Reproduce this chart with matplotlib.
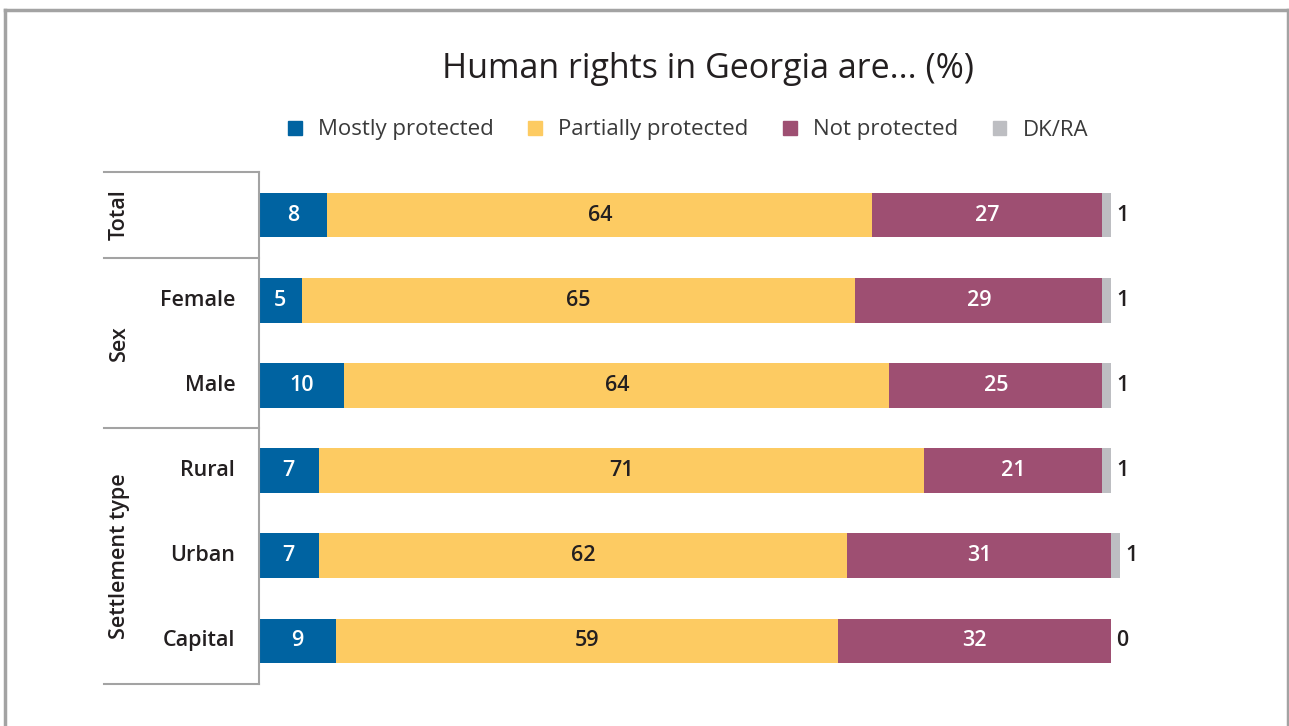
import matplotlib.pyplot as plt
from matplotlib.lines import Line2D

plt.rcParams['font.family'] = ['Open Sans', 'DejaVu Sans']

# Данные опроса
groups = ['Total', 'Sex', 'Settlement type']
rows = ['', 'Female', 'Male', 'Rural', 'Urban', 'Capital']
series = ['Mostly protected', 'Partially protected', 'Not protected', 'DK/RA']
mostly = [8, 5, 10, 7, 7, 9]
partially = [64, 65, 64, 71, 62, 59]
not_prot = [27, 29, 25, 21, 31, 32]
dkra = [1, 1, 1, 1, 1, 0]

colors = ['#0063a1', '#fdcb62', '#9e4f72', '#bdbec2']
text_colors = ['white', '#231f20', 'white']
dark = '#231f20'
line_gray = '#a3a3a3'

fig = plt.figure(figsize=(12.89, 7.26), dpi=100)
ax = fig.add_axes([259 / 1289, 1 - 684 / 726, 852 / 1289, 512 / 726])

values = [mostly, partially, not_prot, dkra]
y = list(range(len(rows)))
left = [0] * len(rows)
for k, vals in enumerate(values):
    ax.barh(y, vals, left=left, height=0.52, color=colors[k], label=series[k],
            clip_on=False)
    for i, v in enumerate(vals):
        if k < 3:
            ax.text(left[i] + v / 2, i, str(v), ha='center', va='center',
                    color=text_colors[k], fontsize=15.5, fontweight='semibold')
        else:
            ax.annotate(str(v), (left[i] + v, i), xytext=(4, 0),
                        textcoords='offset points', ha='left', va='center',
                        color=dark, fontsize=15.5, fontweight='semibold',
                        annotation_clip=False)
    left = [l + v for l, v in zip(left, vals)]

ax.set_xlim(0, 100)
ax.set_ylim(5.51, -0.51)
ax.axis('off')

# Таблица групп слева
x0 = -18.2
for yy in [-0.51, 0.5, 2.5, 5.51]:
    ax.add_line(Line2D([x0, 0], [yy, yy], color=line_gray, lw=1.5, clip_on=False))
ax.add_line(Line2D([0, 0], [-0.51, 5.51], color=line_gray, lw=1.5, clip_on=False))

for i, name in enumerate(rows):
    ax.text(-2.8, i, name, ha='right', va='center', fontsize=15.5,
            fontweight='semibold', color=dark)

group_spans = [(-0.51, 0.5), (0.5, 2.5), (2.5, 5.51)]
for name, (a, b) in zip(groups, group_spans):
    ax.text(-16.4, (a + b) / 2, name, rotation=90, ha='center', va='center',
            fontsize=15.5, fontweight='semibold', color=dark)

# Заголовок и легенда
fig.text(0.549, 1 - 69 / 726, 'Human rights in Georgia are... (%)', ha='center',
         va='center', fontsize=24.5, color=dark)
handles = [plt.Rectangle((0, 0), 1, 1, color=c) for c in colors]
fig.legend(handles, series, loc='center', bbox_to_anchor=(0.534, 1 - 130 / 726),
           ncol=4, frameon=False, fontsize=16, handlelength=0.6, handleheight=0.6,
           columnspacing=1.55, handletextpad=0.75, labelcolor='#3a3a3a')

# Рамка вокруг рисунка
for xs, ys in [([5, 5], [726, 10]), ([5, 1288], [10, 10]), ([1288, 1288], [10, 726])]:
    fig.add_artist(Line2D([x / 1289 for x in xs], [1 - v / 726 for v in ys],
                          color=line_gray, lw=2.5))

fig.savefig('out.png', dpi=100)
